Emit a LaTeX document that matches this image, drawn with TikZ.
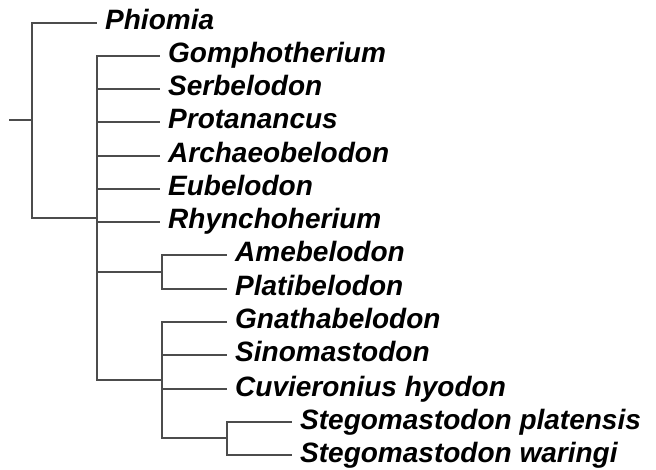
\documentclass[tikz,border=0pt]{standalone}
\usepackage{fontspec}
\setmainfont{Liberation Sans}
\begin{document}
\begin{tikzpicture}[x=1pt,y=-1pt,
  taxon/.style={anchor=west,font=\fontsize{28}{31}\selectfont\bfseries\itshape,
    text height=20pt,text depth=6pt,inner xsep=8pt,inner ysep=0pt},
  branch/.style={draw=black!70,line width=1.3pt}]
\useasboundingbox (0,0) rectangle (656,470);
% junction coordinates
\coordinate (root) at (9,120);
\coordinate (j0) at (32,120);
\coordinate (j1) at (97,218);
\coordinate (j2) at (162,272);
\coordinate (j3) at (162,380);
\coordinate (j4) at (227,438);
% leaves
\node[taxon] (phi) at (97,23) {Phiomia};
\node[taxon] (gom) at (160,56) {Gomphotherium};
\node[taxon] (ser) at (160,89) {Serbelodon};
\node[taxon] (pro) at (160,122) {Protanancus};
\node[taxon] (arc) at (160,156) {Archaeobelodon};
\node[taxon] (eub) at (160,189) {Eubelodon};
\node[taxon] (rhy) at (160,222) {Rhynchoherium};
\node[taxon] (ame) at (227,255) {Amebelodon};
\node[taxon] (pla) at (227,289) {Platibelodon};
\node[taxon] (gna) at (227,322) {Gnathabelodon};
\node[taxon] (sin) at (227,355) {Sinomastodon};
\node[taxon] (cuv) at (227,389) {Cuvieronius hyodon};
\node[taxon] (spl) at (292,422) {Stegomastodon platensis};
\node[taxon] (swa) at (292,455) {Stegomastodon waringi};
% branches
\draw[branch] (root) -- (j0);
\draw[branch] (j0) |- (phi.west);
\draw[branch] (j0) |- (j1);
\draw[branch] (j1) |- (gom.west);
\draw[branch] (j1) |- (ser.west);
\draw[branch] (j1) |- (pro.west);
\draw[branch] (j1) |- (arc.west);
\draw[branch] (j1) |- (eub.west);
\draw[branch] (j1) |- (rhy.west);
\draw[branch] (j1) |- (j2);
\draw[branch] (j1) |- (j3);
\draw[branch] (j2) |- (ame.west);
\draw[branch] (j2) |- (pla.west);
\draw[branch] (j3) |- (gna.west);
\draw[branch] (j3) |- (sin.west);
\draw[branch] (j3) |- (cuv.west);
\draw[branch] (j3) |- (j4);
\draw[branch] (j4) |- (spl.west);
\draw[branch] (j4) |- (swa.west);
\end{tikzpicture}
\end{document}
